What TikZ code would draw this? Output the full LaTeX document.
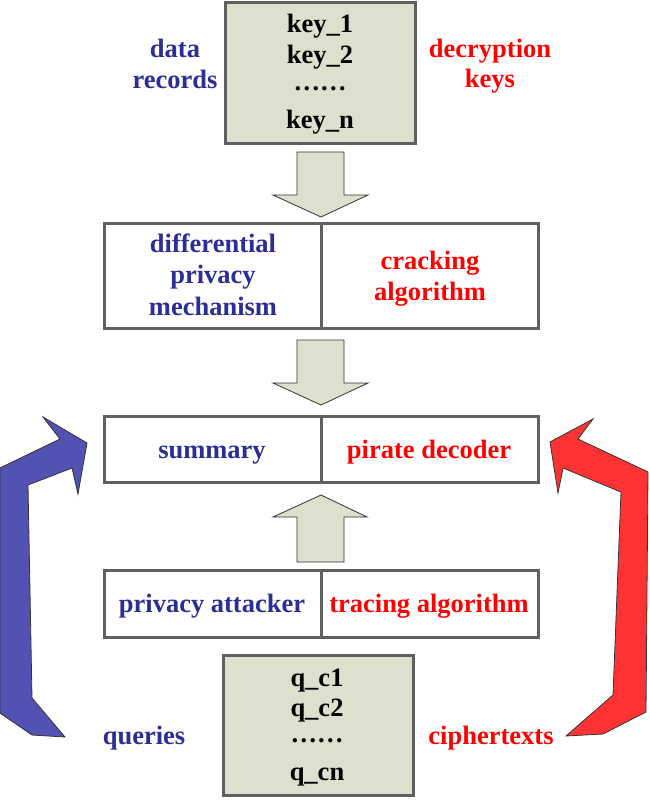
\documentclass[tikz,border=0pt]{standalone}
\usepackage{fontspec}
\setmainfont{Liberation Serif}
\definecolor{tblue}{RGB}{45,45,150}
\definecolor{tred}{RGB}{255,0,0}
\definecolor{ablue}{RGB}{82,82,178}
\definecolor{ared}{RGB}{255,51,51}
\definecolor{kfill}{RGB}{221,224,204}
\definecolor{bord}{RGB}{96,96,96}
\tikzset{
  box/.style={draw=bord,line width=3pt,minimum width=#1,inner sep=0pt},
  cell/.style={draw=bord,line width=3pt,fill=white,inner sep=0pt,minimum width=217pt},
  txt/.style={font=\fontsize{26.5}{31}\selectfont\bfseries,anchor=base,inner sep=0pt},
  bt/.style={txt,text=tblue},
  rt/.style={txt,text=tred},
  blockarrow/.style={fill=kfill,draw=black!80,line width=0.8pt,line join=miter},
}
\begin{document}
\begin{tikzpicture}[x=1pt,y=-1pt]
\path[use as bounding box,fill=white] (0,0) rectangle (649,803);
% top key box
\node[box=190pt,fill=kfill,minimum height=141pt] (keys) at (320,72.5) {};
\node[txt] (k1) at (320,32) {key\_1};
\node[txt] (k2) at (320,63) {key\_2};
\node[txt] (k3) at (320,90) {……};
\node[txt] (k4) at (320,128) {key\_n};
\node[bt] (dr1) at (175,57) {data};
\node[bt] (dr2) at (175,88) {records};
\node[rt] (dk1) at (490,57) {decryption};
\node[rt] (dk2) at (490,87) {keys};
% arrow 1
\draw[blockarrow] (297,152) -- (344,152) -- (344,195) -- (368,195) -- (321,217) -- (273,195) -- (297,195) -- cycle;
% box 2
\node[cell,minimum height=105pt] (dp) at (212.5,275.5) {};
\node[cell,minimum height=105pt] (ca) at (429.5,275.5) {};
\node[bt] (dp1) at (213,252) {differential};
\node[bt] (dp2) at (213,283) {privacy};
\node[bt] (dp3) at (213,315) {mechanism};
\node[rt] (ca1) at (430,269) {cracking};
\node[rt] (ca2) at (430,300) {algorithm};
% arrow 2
\draw[blockarrow] (297,340) -- (344,340) -- (344,383) -- (368,383) -- (321,405) -- (273,383) -- (297,383) -- cycle;
% box 3
\node[cell,minimum height=66pt] (su) at (212.5,449) {};
\node[cell,minimum height=66pt] (pd) at (429.5,449) {};
\node[bt] (sut) at (212,458) {summary};
\node[rt] (pdt) at (429,458) {pirate decoder};
% arrow 3 (up)
\draw[blockarrow] (297,562) -- (344,562) -- (344,517) -- (367,517) -- (321,495) -- (273,517) -- (297,517) -- cycle;
% box 4
\node[cell,minimum height=67pt] (pa) at (212.5,603.5) {};
\node[cell,minimum height=67pt] (ta) at (429.5,603.5) {};
\node[bt] (pat) at (212,612) {privacy attacker};
\node[rt] (tat) at (429,612) {tracing algorithm};
% bottom box
\node[box=190pt,fill=kfill,minimum height=140pt] (qs) at (318,725) {};
\node[txt] (q1) at (317,686) {q\_c1};
\node[txt] (q2) at (317,716) {q\_c2};
\node[txt] (q3) at (317,742) {……};
\node[txt] (q4) at (317,780) {q\_cn};
\node[bt] (qu) at (144,744) {queries};
\node[rt] (ct) at (491,744) {ciphertexts};
% blue curved block arrow
\draw[fill=ablue,draw=black!80,line width=0.8pt] (0,468) -- (60,439) -- (43,417) -- (87,443) -- (78,494) -- (72,468) -- (28,485) -- (32,698) -- (65,737) -- (32,735) -- (0,713) -- cycle;
% red curved block arrow
\draw[fill=ared,draw=black!80,line width=0.8pt] (550,442) -- (593,419) -- (578,439) -- (648,472) -- (646,712) -- (603,734) -- (566,736) -- (613,695) -- (621,492) -- (563,468) -- (558,493) -- cycle;
\end{tikzpicture}
\end{document}
